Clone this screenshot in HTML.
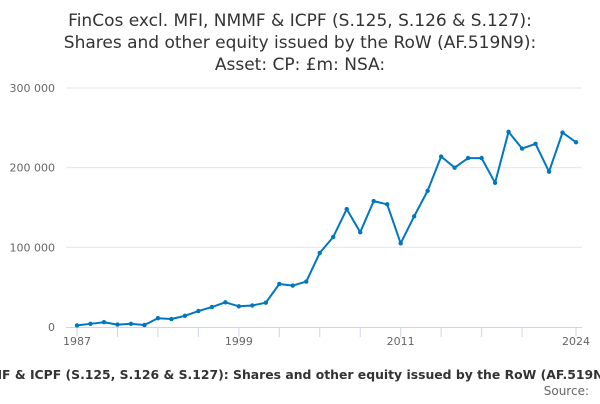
<!DOCTYPE html>
<html><head><meta charset="utf-8"><style>
body{margin:0;background:#fff;width:600px;height:400px;overflow:hidden;font-family:"DejaVu Sans","Liberation Sans",sans-serif}
</style></head><body>
<svg id="chart" width="600" height="400" xmlns="http://www.w3.org/2000/svg" font-family="DejaVu Sans, Liberation Sans, sans-serif">
<g fill="#333" font-size="17" text-anchor="middle">
<text x="300" y="26">FinCos excl. MFI, NMMF &amp; ICPF (S.125, S.126 &amp; S.127):</text>
<text x="300" y="48">Shares and other equity issued by the RoW (AF.519N9):</text>
<text x="300" y="70">Asset: CP: £m: NSA:</text>
</g>
<g id="grid"></g>
<g id="yticks" fill="#666" font-size="11" text-anchor="end"></g>
<g id="xaxis"></g>
<g id="series"></g>
<text x="306" y="379" font-size="12.4" font-weight="bold" fill="#333" text-anchor="middle">FinCos excl. MFI, NMMF &amp; ICPF (S.125, S.126 &amp; S.127): Shares and other equity issued by the RoW (AF.519N9): Asset: CP: £m: NSA:</text>
<text x="589" y="395" font-size="12" fill="#666" text-anchor="end">Source:</text>
</svg>
<script>
const years=[1987,1988,1989,1990,1991,1992,1993,1994,1995,1996,1997,1998,1999,2000,2001,2002,2003,2004,2005,2006,2007,2008,2009,2010,2011,2012,2013,2014,2015,2016,2017,2018,2019,2020,2021,2022,2023,2024];
const values=[2000,4000,6000,3000,4000,2500,11000,10000,14000,20000,25000,31000,26000,27000,30500,54000,52000,57000,93000,113000,148000,119000,158000,154000,105000,139000,171000,214000,200000,212000,212000,181000,245000,224000,230000,195000,244000,232000];
const yTicks=[0,100000,200000,300000];
const yTickLabels=["0","100 000","200 000","300 000"];
const xTickYears=[1987,1990,1993,1996,1999,2002,2005,2008,2011,2014,2017,2020,2024];
const xLabelYears=[1987,1999,2011,2024];
const NS="http://www.w3.org/2000/svg";
const X=y=>77+(y-1987)*(576-77)/(2024-1987);
const Y=v=>327-v*(327-88)/300000;
function mk(t,a,p){const e=document.createElementNS(NS,t);for(const k in a)e.setAttribute(k,a[k]);p.appendChild(e);return e;}
const grid=document.getElementById('grid'),yt=document.getElementById('yticks'),xa=document.getElementById('xaxis'),se=document.getElementById('series');
yTicks.forEach((v,i)=>{
 if(v>0){const l=mk('line',{x1:66,x2:582,y1:Y(v),y2:Y(v),stroke:'#e6e6e6','stroke-width':1},grid);
 
 }
 const t=mk('text',{x:55,y:Y(v)+4},yt);t.textContent=yTickLabels[i];
 
 
});
const ax=mk('line',{x1:66,x2:582,y1:327.5,y2:327.5,stroke:'#ccd6eb','stroke-width':1},xa);


xTickYears.forEach(y=>{const t=mk('line',{x1:X(y),x2:X(y),y1:327,y2:337,stroke:'#ccd6eb'},xa);
 
 });
xLabelYears.forEach(y=>{const t=mk('text',{x:X(y),y:345,'font-size':11,fill:'#666','text-anchor':'middle'},xa);t.textContent=y;
 
 });
const pts=years.map((y,i)=>X(y)+','+Y(values[i])).join(' ');
const pl=mk('polyline',{points:pts,fill:'none',stroke:'#0077c0','stroke-width':2,'stroke-linejoin':'round'},se);


years.forEach((y,i)=>{const c=mk('circle',{cx:X(y),cy:Y(values[i]),r:2.2,fill:'#0077c0'},se);
 
 });
</script>
</body></html>
